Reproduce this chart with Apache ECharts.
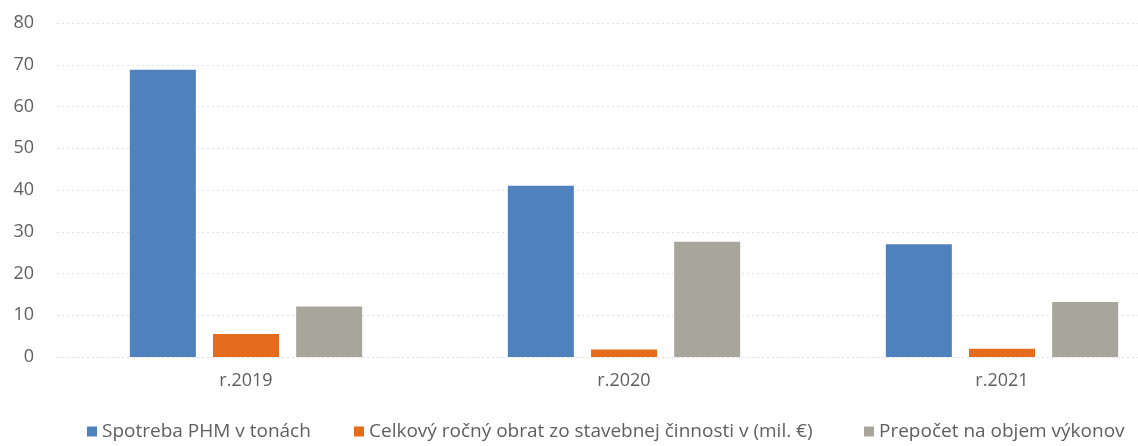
<!DOCTYPE html>
<html>
<head>
<meta charset="utf-8">
<script src="https://cdn.jsdelivr.net/npm/echarts@6/dist/echarts.min.js"></script>
<style>
  html, body { margin: 0; padding: 0; background: #ffffff; overflow: hidden; }
  #wrap { width: 1138px; height: 446px; overflow: hidden; position: relative; }
  #chart { width: 1200px; height: 446px; }
</style>
</head>
<body>
<div id="wrap"><div id="chart"></div></div>
<script>
// Years on the category axis
const categories = ['r.2019', 'r.2020', 'r.2021'];

// Series values
const seriesNames = [
  'Spotreba PHM v tonách',
  'Celkový ročný obrat zo stavebnej činnosti v (mil. €)',
  'Prepočet na objem výkonov'
];
const fuelTons = [68.8, 41.0, 27.0];
const turnover = [5.5, 1.8, 2.0];
const perOutput = [12.1, 27.6, 13.2];

// Value axis range
const yMin = 0;
const yMax = 80;
const yStep = 10;

const colors = ['#4f81bd', '#e46c1c', '#a8a69c'];
const fontFamily = "'Open Sans', 'Liberation Sans', 'DejaVu Sans', sans-serif";
const textColor = '#5f5f5f';

const chart = echarts.init(document.getElementById('chart'), null, { renderer: 'canvas' });

const values = [fuelTons, turnover, perOutput];

// one legend block per series so each entry sits at its own spot on the bottom row
const legendLefts = [82, 349, 859];
const legends = seriesNames.map((name, i) => ({
  bottom: 0,
  left: legendLefts[i],
  itemWidth: 10,
  itemHeight: 10,
  icon: 'rect',
  textStyle: { fontSize: 19, color: textColor, fontFamily: fontFamily },
  data: [name]
}));

chart.setOption({
  backgroundColor: '#ffffff',
  animation: false,
  color: colors,
  textStyle: { fontFamily: fontFamily },
  // the plot runs slightly past the right edge of the visible area
  grid: { left: 57, top: 23, right: 9, bottom: 89, containLabel: false },
  legend: legends,
  xAxis: {
    type: 'category',
    data: categories,
    axisTick: { show: false },
    axisLine: { show: true, lineStyle: { color: '#e2e2e2', type: [2, 3] } },
    axisLabel: { fontSize: 18, color: textColor, margin: 15, fontFamily: fontFamily }
  },
  yAxis: {
    type: 'value',
    min: yMin,
    max: yMax,
    interval: yStep,
    axisLine: { show: false },
    axisTick: { show: false },
    axisLabel: { fontSize: 18, color: textColor, margin: 23, fontFamily: fontFamily },
    splitLine: { lineStyle: { color: '#e4e4e4', type: [2, 3] } }
  },
  series: seriesNames.map((name, i) => ({
    name: name,
    type: 'bar',
    data: values[i],
    barWidth: 66,
    barGap: '26%',
    itemStyle: { color: colors[i] }
  }))
});
</script>
</body>
</html>
